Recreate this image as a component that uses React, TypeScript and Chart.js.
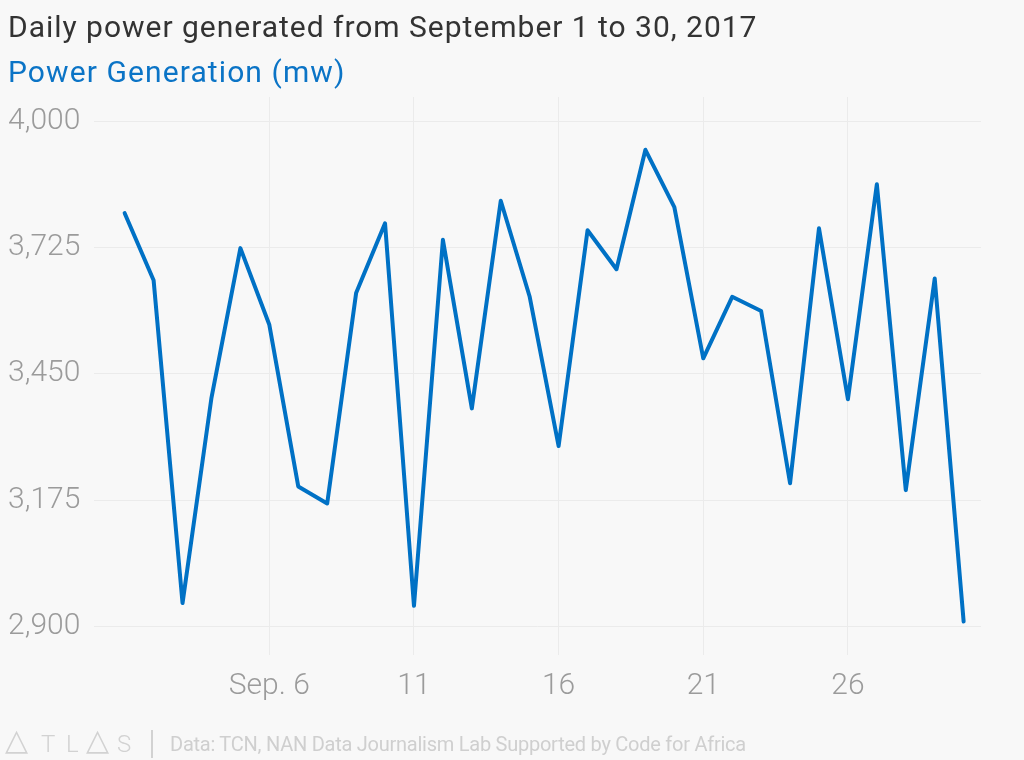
import React, { useEffect, useRef } from "react";
import { Chart, registerables } from "chart.js";

Chart.register(...registerables);

const days = [1, 2, 3, 4, 5, 6, 7, 8, 9, 10, 11, 12, 13, 14, 15, 16, 17, 18, 19, 20, 21, 22, 23, 24, 25, 26, 27, 28, 29, 30];
const powerMw = [3800, 3654, 2951, 3398, 3724, 3557, 3205, 3168, 3626, 3778, 2945, 3742, 3375, 3827, 3618, 3293, 3763, 3678, 3938, 3813, 3484, 3618, 3587, 3212, 3767, 3395, 3863, 3197, 3658, 2911];
const yTicks = [2900, 3175, 3450, 3725, 4000];
const xTickDays = [6, 11, 16, 21, 26];
const xTickLabels = ["Sep. 6", "11", "16", "21", "26"];

const titleText = "Daily power generated from September 1 to 30, 2017";
const subtitleText = "Power Generation (mw)";
const sourceText = "Data: TCN, NAN Data Journalism Lab Supported by Code for Africa";

const BLUE = "#0071c5";
const GRID = "#ebebeb";
const TICK = "#9b9b9b";

export default function App() {
  const canvasRef = useRef<HTMLCanvasElement | null>(null);

  useEffect(() => {
    document.body.style.background = "#f8f8f8";
    const canvas = canvasRef.current;
    if (!canvas) return;
    const chart = new Chart(canvas, {
      type: "line",
      data: {
        datasets: [
          {
            label: subtitleText,
            data: days.map((d, i) => ({ x: d, y: powerMw[i] })),
            borderColor: BLUE,
            backgroundColor: BLUE,
            borderWidth: 4,
            pointRadius: 0,
            tension: 0,
            borderJoinStyle: "round",
            borderCapStyle: "round",
          },
        ],
      },
      options: {
        animation: false,
        responsive: false,
        maintainAspectRatio: false,
        layout: { padding: { left: 8, right: 43, top: 97, bottom: 45 } },
        plugins: {
          legend: { display: false },
          title: { display: false },
          tooltip: { enabled: false },
        },
        scales: {
          x: {
            type: "linear",
            min: -0.05,
            max: 30.6,
            afterBuildTicks: (scale: any) => {
              scale.ticks = xTickDays.map((v) => ({ value: v }));
            },
            afterFit: (scale: any) => {
              scale.height = 60;
            },
            ticks: {
              autoSkip: false,
              maxRotation: 0,
              padding: 13,
              color: TICK,
              font: { family: "Roboto", size: 30, weight: 300 },
              callback: (v: any) => {
                const i = xTickDays.indexOf(Number(v));
                return i >= 0 ? xTickLabels[i] : "";
              },
            },
            grid: { color: GRID, lineWidth: 1, drawTicks: false },
            border: { display: false },
          },
          y: {
            min: 2838,
            max: 4053,
            afterBuildTicks: (scale: any) => {
              scale.ticks = yTicks.map((v) => ({ value: v }));
            },
            afterFit: (scale: any) => {
              scale.width = 86.3;
            },
            ticks: {
              crossAlign: "far",
              color: TICK,
              font: { family: "Roboto", size: 30, weight: 300 },
              callback: (v: any) => Number(v).toLocaleString("en-US"),
            },
            grid: { color: GRID, lineWidth: 1, drawTicks: false },
            border: { display: false },
          },
        },
      },
    });
    return () => chart.destroy();
  }, []);

  const txt: React.CSSProperties = {
    position: "absolute",
    whiteSpace: "nowrap",
    fontFamily: "Roboto, sans-serif",
    lineHeight: 1.172,
    margin: 0,
  };

  const logoLetter = (ch: string, left: number, tri: boolean) => (
    <span
      key={left}
      style={{
        ...txt,
        left,
        top: tri ? 722 : 729.7,
        fontSize: tri ? 30 : 24,
        fontWeight: 300,
        fontFamily: tri ? "'DejaVu Sans', sans-serif" : "Roboto, sans-serif",
        color: "#d2d2d2",
      }}
    >
      {ch}
    </span>
  );

  return (
    <div style={{ position: "absolute", left: 0, top: 0, width: 1024, height: 760, background: "#f8f8f8", overflow: "hidden" }}>
      <canvas ref={canvasRef} width={1024} height={760} style={{ position: "absolute", left: 0, top: 0, width: 1024, height: 760 }} />
      <div style={{ ...txt, left: 8, top: 8.9, fontSize: 30, color: "#333333", fontWeight: 400, letterSpacing: 0.98 }}>{titleText}</div>
      <div style={{ ...txt, left: 8, top: 54.2, fontSize: 30, color: "#0b74c6", fontWeight: 400, letterSpacing: 1.1 }}>{subtitleText}</div>
      {logoLetter("△", 5, true)}
      {logoLetter("T", 41, false)}
      {logoLetter("L", 66, false)}
      {logoLetter("△", 86, true)}
      {logoLetter("S", 117, false)}
      <div style={{ position: "absolute", left: 151, top: 730, width: 1.5, height: 28, background: "#d2d2d2" }} />
      <div style={{ ...txt, left: 170, top: 732.5, fontSize: 20, color: "#cfcfcf", fontWeight: 400, letterSpacing: -0.25 }}>{sourceText}</div>
    </div>
  );
}
